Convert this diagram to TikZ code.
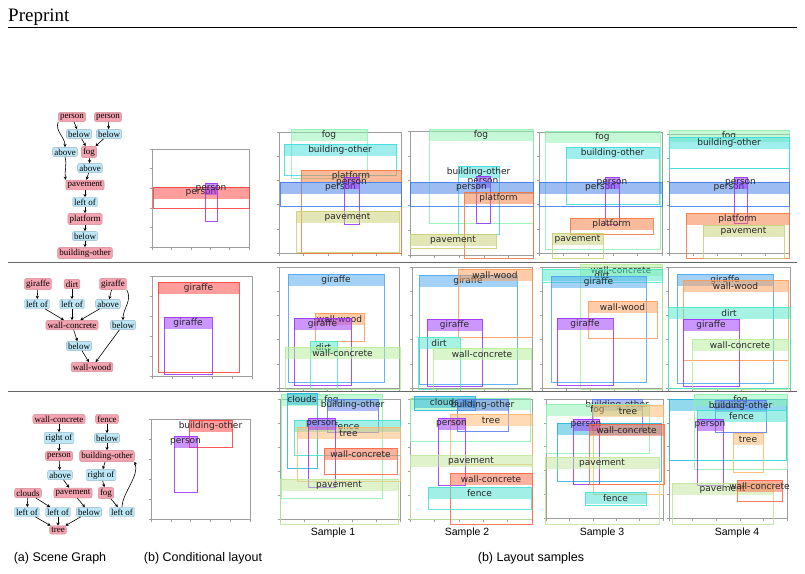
\documentclass[tikz,border=0pt]{standalone}
\usepackage{fontspec}
\setmainfont{Liberation Serif}
\newfontfamily\boxfont{DejaVu Sans}
\newfontfamily\capfont{Liberation Sans}
\usetikzlibrary{arrows.meta}
\definecolor{frame}{HTML}{9E9E9E}
\definecolor{objpink}{HTML}{F4A3B0}
\definecolor{relblue}{HTML}{BDE7F7}
\definecolor{peblue}{HTML}{3C7BE6}
\definecolor{pepur}{HTML}{9A2EFF}
\definecolor{foggr}{HTML}{8CF2B0}
\definecolor{bocyan}{HTML}{3FDCDC}
\definecolor{plor}{HTML}{F5783C}
\definecolor{paol}{HTML}{C8CF70}
\definecolor{gblue}{HTML}{4AA6F0}
\definecolor{gpur}{HTML}{9A2EFF}
\definecolor{wwor}{HTML}{FF9A55}
\definecolor{dirtc}{HTML}{4DE8C8}
\definecolor{wcgr}{HTML}{B3EE96}
\definecolor{cloudc}{HTML}{25B4DC}
\definecolor{boblue}{HTML}{5A78EE}
\definecolor{fencec}{HTML}{45E0D2}
\definecolor{treec}{HTML}{FFB56A}
\definecolor{wcred}{HTML}{FF6440}
\definecolor{pavgr}{HTML}{BFE59A}
\definecolor{cred}{HTML}{FF3B3B}
\tikzset{
  obj/.style={
    fill=objpink, draw=objpink!85!black, rounded corners=2pt,
    inner xsep=1.6pt, inner ysep=1.5pt,
    font=\fontsize{9}{10}\selectfont
  },
  rel/.style={
    fill=relblue, draw=relblue!80!black, rounded corners=2pt,
    inner xsep=1.6pt, inner ysep=1.5pt,
    font=\fontsize{9}{10}\selectfont
  },
  edge/.style={-{Stealth[length=3.2pt,width=3.2pt]}, line width=.6pt},
  boxlab/.style={font=\boxfont\fontsize{9}{10}\selectfont, text=black!85, inner sep=0pt},
  capt/.style={font=\capfont\fontsize{12.5}{14}\selectfont, inner sep=0pt},
  samp/.style={font=\capfont\fontsize{10.5}{12}\selectfont, inner sep=0pt},
  rowsep/.style={draw=black!60, line width=1pt}
}
% frame of one layout panel, with ticks
\newcommand{\layframe}[4]{%
  \draw[frame, line width=.8pt] (#1,#2) rectangle (#3,#4);
  \foreach \k in {0,...,5}{%
    \draw[frame, line width=.6pt] ({#1+\k*(#3-#1)/5},#4) -- ++(0,2.5);
    \draw[frame, line width=.6pt] (#1,{#4-\k*(#4-#2)/5}) -- ++(-2.5,0);
  }%
}
% one object box: colour, x0, y0, x1, y1, label
\newcommand{\laybox}[6]{%
  \fill[#1, fill opacity=.5] (#2,#3) rectangle (#4,#3+12);
  \draw[#1, line width=.9pt, draw opacity=.85] (#2,#3) rectangle (#4,#5);
  \node[boxlab] at ({(#2+#4)/2},#3+6) {#6};
}

\begin{document}
\begin{tikzpicture}[x=1pt, y=-1pt]
  \useasboundingbox (0,0) rectangle (805,573);

  % header
  \node[anchor=base west, inner sep=0pt, font=\fontsize{19}{21}\selectfont] (head) at (8,21) {Preprint};
  \draw[line width=.6pt] (8,27) -- (797,27);

  % row separators
  \draw[rowsep] (8,262) -- (797,262);
  \draw[rowsep] (8,391) -- (797,391);

  % ---------- scene graph 1
  \node[obj] (g1pa) at (72,117) {person};
  \node[obj] (g1pb) at (108,117) {person};
  \node[rel] (g1ba) at (79,134) {below};
  \node[rel] (g1bb) at (109,134) {below};
  \node[rel] (g1aa) at (65,152) {above};
  \node[obj] (g1fog) at (89,152) {fog};
  \node[rel] (g1ab) at (90,168) {above};
  \node[obj] (g1pav) at (85,185) {pavement};
  \node[rel] (g1lo) at (85,202) {left of};
  \node[obj] (g1pl) at (85,219) {platform};
  \node[rel] (g1bc) at (85,236) {below};
  \node[obj] (g1bo) at (85,253) {building-other};
  \draw[edge] (g1pa) -- (g1ba);
  \draw[edge] (g1pa.south west) to[out=-110,in=90] (g1aa.north);
  \draw[edge] (g1ba) -- (g1fog);
  \draw[edge] (g1pb) -- (g1bb);
  \draw[edge] (g1bb) -- (g1fog);
  \draw[edge] (g1fog) -- (g1ab);
  \draw[edge] (g1aa.south) to[out=-75,in=100] (g1pav.north west);
  \draw[edge] (g1ab) -- (g1pav);
  \draw[edge] (g1pav) -- (g1lo);
  \draw[edge] (g1lo) -- (g1pl);
  \draw[edge] (g1pl) -- (g1bc);
  \draw[edge] (g1bc) -- (g1bo);

  % ---------- scene graph 2
  \node[obj] (g2ga) at (38,284) {giraffe};
  \node[obj] (g2d) at (72,284) {dirt};
  \node[obj] (g2gb) at (113,284) {giraffe};
  \node[rel] (g2la) at (37,304) {left of};
  \node[rel] (g2lb) at (72,304) {left of};
  \node[rel] (g2ab) at (108,304) {above};
  \node[obj] (g2wc) at (72,325) {wall-concrete};
  \node[rel] (g2ba) at (123,325) {below};
  \node[rel] (g2bb) at (79,346) {below};
  \node[obj] (g2ww) at (92,367) {wall-wood};
  \draw[edge] (g2ga) -- (g2la);
  \draw[edge] (g2d) -- (g2lb);
  \draw[edge] (g2gb) -- (g2ab);
  \draw[edge] (g2gb.south east) to[out=-60,in=90] (g2ba.north);
  \draw[edge] (g2la) -- (g2wc);
  \draw[edge] (g2lb) -- (g2wc);
  \draw[edge] (g2ab) -- (g2wc);
  \draw[edge] (g2wc) -- (g2bb);
  \draw[edge] (g2bb) -- (g2ww);
  \draw[edge] (g2ba) -- (g2ww);

  % ---------- scene graph 3
  \node[obj] (g3wc) at (59,419) {wall-concrete};
  \node[obj] (g3fe) at (107,419) {fence};
  \node[rel] (g3ra) at (59,438) {right of};
  \node[rel] (g3ba) at (107,438) {below};
  \node[obj] (g3pe) at (59,456) {person};
  \node[obj] (g3bo) at (107,456) {building-other};
  \node[rel] (g3ab) at (60,475) {above};
  \node[rel] (g3rb) at (101,475) {right of};
  \node[obj] (g3cl) at (28,493) {clouds};
  \node[obj] (g3pa) at (73,493) {pavement};
  \node[obj] (g3fo) at (106,493) {fog};
  \node[rel] (g3la) at (27,512) {left of};
  \node[rel] (g3lb) at (58,512) {left of};
  \node[rel] (g3bb) at (89,512) {below};
  \node[rel] (g3lc) at (122,512) {left of};
  \node[obj] (g3tr) at (58,530) {tree};
  \draw[edge] (g3wc) -- (g3ra);
  \draw[edge] (g3ra) -- (g3pe);
  \draw[edge] (g3pe) -- (g3ab);
  \draw[edge] (g3ab) -- (g3pa);
  \draw[edge] (g3fe) -- (g3ba);
  \draw[edge] (g3ba) -- (g3bo);
  \draw[edge] (g3bo) -- (g3rb);
  \draw[edge] (g3rb) -- (g3fo);
  \draw[edge] (g3fo) -- (g3lc);
  \draw[edge] (g3lc.north) to[out=88,in=-70,looseness=.8] (g3bo.south east);
  \draw[edge] (g3cl) -- (g3la);
  \draw[edge] (g3cl) -- (g3lb);
  \draw[edge] (g3pa) -- (g3bb);
  \draw[edge] (g3la) -- (g3tr);
  \draw[edge] (g3lb) -- (g3tr);
  \draw[edge] (g3bb) -- (g3tr);

  % ---------- row 1 layouts
  \layframe{152}{149}{249}{247}
  \laybox{cred}{153}{187}{249}{208}{person}
  \laybox{pepur}{205}{183}{217}{221}{person}

  \layframe{279}{132}{401}{253}
  \laybox{foggr}{291}{129}{367}{178}{fog}
  \laybox{bocyan}{284}{144}{396}{175}{building-other}
  \laybox{plor}{301}{170}{401}{253}{platform}
  \laybox{peblue}{280}{182}{401}{206}{person}
  \laybox{pepur}{344}{177}{359}{224}{person}
  \laybox{paol}{296}{211}{399}{252}{pavement}

  \layframe{410}{131}{533}{255}
  \laybox{foggr}{429}{129}{533}{223}{fog}
  \laybox{bocyan}{458}{166}{499}{234}{building-other}
  \laybox{pepur}{476}{176}{490}{223}{person}
  \laybox{peblue}{410}{182}{533}{206}{person}
  \laybox{plor}{464}{192}{533}{258}{platform}
  \laybox{paol}{410}{234}{496}{248}{pavement}

  \layframe{539}{132}{662}{253}
  \laybox{foggr}{545}{131}{660}{249}{fog}
  \laybox{bocyan}{566}{147}{659}{204}{building-other}
  \laybox{peblue}{539}{182}{662}{206}{person}
  \laybox{pepur}{605}{177}{619}{224}{person}
  \laybox{plor}{570}{218}{653}{234}{platform}
  \laybox{paol}{552}{233}{603}{258}{pavement}

  \layframe{669}{134}{789}{253}
  \laybox{foggr}{669}{130}{789}{168}{fog}
  \laybox{bocyan}{669}{137}{789}{168}{building-other}
  \laybox{peblue}{669}{182}{789}{206}{person}
  \laybox{pepur}{734}{177}{747}{223}{person}
  \laybox{plor}{686}{213}{789}{258}{platform}
  \laybox{paol}{703}{225}{784}{258}{pavement}

  % ---------- row 2 layouts
  \layframe{152}{276}{252}{376}
  \laybox{cred}{158}{282}{239}{372}{giraffe}
  \laybox{gpur}{164}{317}{212}{374}{giraffe}

  \layframe{279}{267}{399}{388}
  \laybox{gblue}{288}{274}{384}{382}{giraffe}
  \laybox{wwor}{315}{313}{364}{341}{wall-wood}
  \laybox{gpur}{294}{318}{351}{385}{giraffe}
  \laybox{dirtc}{310}{341}{337}{389}{dirt}
  \laybox{wcgr}{285}{347}{400}{389}{wall-concrete}

  \layframe{412}{267}{532}{388}
  \laybox{gblue}{419}{275}{517}{384}{giraffe}
  \laybox{wwor}{458}{269}{532}{337}{wall-wood}
  \laybox{gpur}{427}{319}{482}{386}{giraffe}
  \laybox{dirtc}{418}{337}{460}{389}{dirt}
  \laybox{wcgr}{433}{348}{531}{389}{wall-concrete}

  \layframe{542}{267}{662}{388}
  \laybox{wcgr}{580}{264}{662}{389}{wall-concrete}
  \laybox{dirtc}{542}{269}{662}{282}{dirt}
  \laybox{gblue}{551}{276}{646}{382}{giraffe}
  \laybox{wwor}{588}{301}{657}{338}{wall-wood}
  \laybox{gpur}{557}{318}{613}{385}{giraffe}

  \layframe{668}{267}{790}{388}
  \laybox{gblue}{677}{274}{773}{383}{giraffe}
  \laybox{wwor}{683}{280}{788}{360}{wall-wood}
  \laybox{dirtc}{668}{307}{790}{388}{dirt}
  \laybox{gpur}{683}{319}{739}{386}{giraffe}
  \laybox{wcgr}{692}{339}{788}{389}{wall-concrete}

  % ---------- row 3 layouts
  \layframe{151}{419}{250}{519}
  \laybox{cred}{189}{420}{232}{447}{building-other}
  \laybox{pepur}{174}{436}{197}{492}{person}

  \layframe{280}{399}{400}{519}
  \laybox{foggr}{281}{394}{382}{498}{fog}
  \laybox{cloudc}{287}{393}{317}{468}{clouds}
  \laybox{boblue}{327}{399}{378}{432}{building-other}
  \laybox{fencec}{294}{420}{400}{455}{fence}
  \laybox{treec}{297}{427}{400}{481}{tree}
  \laybox{pepur}{308}{418}{335}{487}{person}
  \laybox{wcred}{324}{448}{397}{474}{wall-concrete}
  \laybox{pavgr}{280}{479}{398}{524}{pavement}

  \layframe{410}{399}{532}{519}
  \laybox{foggr}{410}{398}{530}{441}{fog}
  \laybox{cloudc}{414}{396}{475}{410}{clouds}
  \laybox{boblue}{457}{399}{508}{431}{building-other}
  \laybox{treec}{450}{414}{532}{464}{tree}
  \laybox{pepur}{438}{418}{465}{485}{person}
  \laybox{pavgr}{410}{455}{532}{519}{pavement}
  \laybox{wcred}{450}{473}{532}{524}{wall-concrete}
  \laybox{fencec}{428}{487}{531}{509}{fence}

  \layframe{546}{399}{663}{518}
  \laybox{boblue}{592}{399}{642}{430}{building-other}
  \laybox{foggr}{546}{404}{649}{453}{fog}
  \laybox{treec}{593}{405}{663}{494}{tree}
  \laybox{cloudc}{557}{423}{661}{481}{}
  \laybox{pepur}{573}{419}{599}{484}{person}
  \laybox{wcred}{589}{424}{664}{484}{wall-concrete}
  \laybox{pavgr}{545}{457}{659}{524}{pavement}
  \laybox{fencec}{585}{492}{646}{505}{fence}

  \layframe{669}{399}{787}{518}
  \laybox{cloudc}{669}{399}{786}{460}{clouds}
  \laybox{foggr}{694}{394}{787}{469}{fog}
  \laybox{boblue}{715}{400}{766}{432}{building-other}
  \laybox{fencec}{697}{410}{786}{460}{fence}
  \laybox{pepur}{697}{419}{723}{485}{person}
  \laybox{treec}{733}{433}{763}{472}{tree}
  \laybox{pavgr}{672}{483}{773}{524}{pavement}
  \laybox{wcred}{737}{480}{782}{501}{wall-concrete}

  % ---------- captions
  \node[samp] (s1) at (333,533) {Sample 1};
  \node[samp] (s2) at (467,533) {Sample 2};
  \node[samp] (s3) at (602,533) {Sample 3};
  \node[samp] (s4) at (737,533) {Sample 4};
  \node[capt] (capa) at (60,558) {(a) Scene Graph};
  \node[capt] (capb) at (203,558) {(b) Conditional layout};
  \node[capt] (capc) at (531,558) {(b) Layout samples};
\end{tikzpicture}
\end{document}
